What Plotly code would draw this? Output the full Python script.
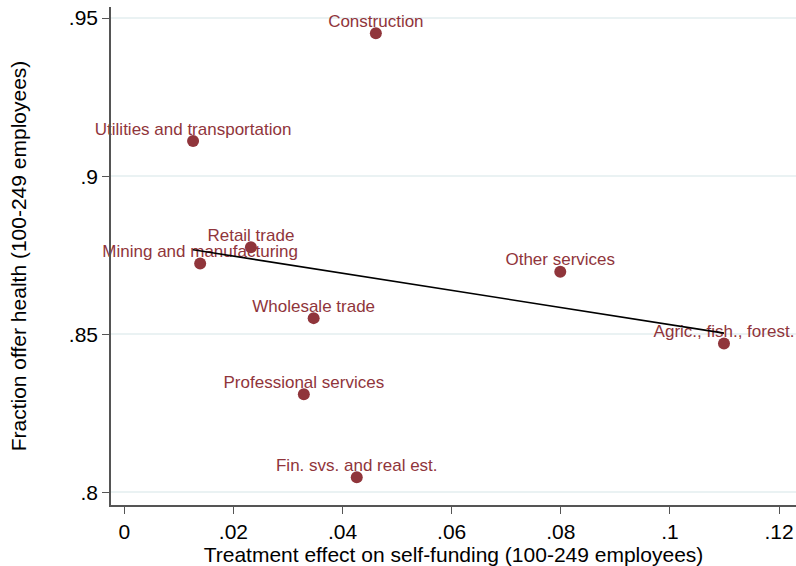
import numpy as np
import plotly.graph_objects as go

industries = ["Construction", "Utilities and transportation", "Retail trade",
              "Mining and manufacturing", "Other services", "Wholesale trade",
              "Agric., fish., forest.", "Professional services", "Fin. svs. and real est."]
treatment_effect = [0.0461, 0.0126, 0.0232, 0.0139, 0.0799, 0.0347, 0.1099, 0.0329, 0.0426]
fraction_offer = [0.9452, 0.9111, 0.8775, 0.8724, 0.8698, 0.8551, 0.8471, 0.8310, 0.8048]

x_ticks = [0, 0.02, 0.04, 0.06, 0.08, 0.10, 0.12]
x_tick_labels = ["0", ".02", ".04", ".06", ".08", ".1", ".12"]
y_ticks = [0.80, 0.85, 0.90, 0.95]
y_tick_labels = [".8", ".85", ".9", ".95"]

color = "#90353B"
font_family = "Liberation Sans, Arial, Helvetica, sans-serif"

xs = np.array(treatment_effect)
ys = np.array(fraction_offer)
slope, intercept = np.polyfit(xs, ys, 1)
fit_x = [xs.min(), xs.max()]
fit_y = [intercept + slope * v for v in fit_x]

fig = go.Figure()
fig.add_trace(go.Scatter(
    x=treatment_effect, y=fraction_offer, mode="markers",
    marker=dict(color=color, size=12, line=dict(width=0)),
    showlegend=False, cliponaxis=False,
))
fig.add_trace(go.Scatter(
    x=treatment_effect, y=fraction_offer, mode="markers+text",
    text=industries, textposition="top center",
    textfont=dict(color=color, size=17, family=font_family),
    marker=dict(color=color, size=2, opacity=0),
    showlegend=False, cliponaxis=False, hoverinfo="skip",
))
fig.add_trace(go.Scatter(
    x=fit_x, y=fit_y, mode="lines",
    line=dict(color="black", width=1.6),
    showlegend=False,
))

fig.update_layout(
    width=796, height=566,
    margin=dict(l=111, r=0, t=7, b=61, autoexpand=False),
    paper_bgcolor="white", plot_bgcolor="white",
    font=dict(family=font_family, size=21, color="black"),
    xaxis=dict(
        range=[-0.00244, 0.1231], tickvals=x_ticks, ticktext=x_tick_labels,
        showgrid=False, zeroline=False, automargin=False,
        showline=True, linecolor="#555555", linewidth=1.5,
        ticks="outside", ticklen=7, tickcolor="#555555", tickwidth=1.2,
        tickfont=dict(size=21),
        title=dict(text="Treatment effect on self-funding (100-249 employees)",
                   font=dict(size=21), standoff=0),
    ),
    yaxis=dict(
        range=[0.796, 0.9535], tickvals=y_ticks, ticktext=y_tick_labels,
        showgrid=True, gridcolor="#EAF2F3", gridwidth=1.5, zeroline=False,
        automargin=False,
        showline=True, linecolor="#555555", linewidth=1.5,
        ticks="outside", ticklen=7, tickcolor="#555555", tickwidth=1.2,
        tickfont=dict(size=21),
        title=dict(text="Fraction offer health (100-249 employees)",
                   font=dict(size=21), standoff=36),
    ),
)

fig.write_html(
    "out.html",
    config={"displayModeBar": False},
    post_script="document.body.style.margin='0';document.body.style.overflow='hidden';",
)
